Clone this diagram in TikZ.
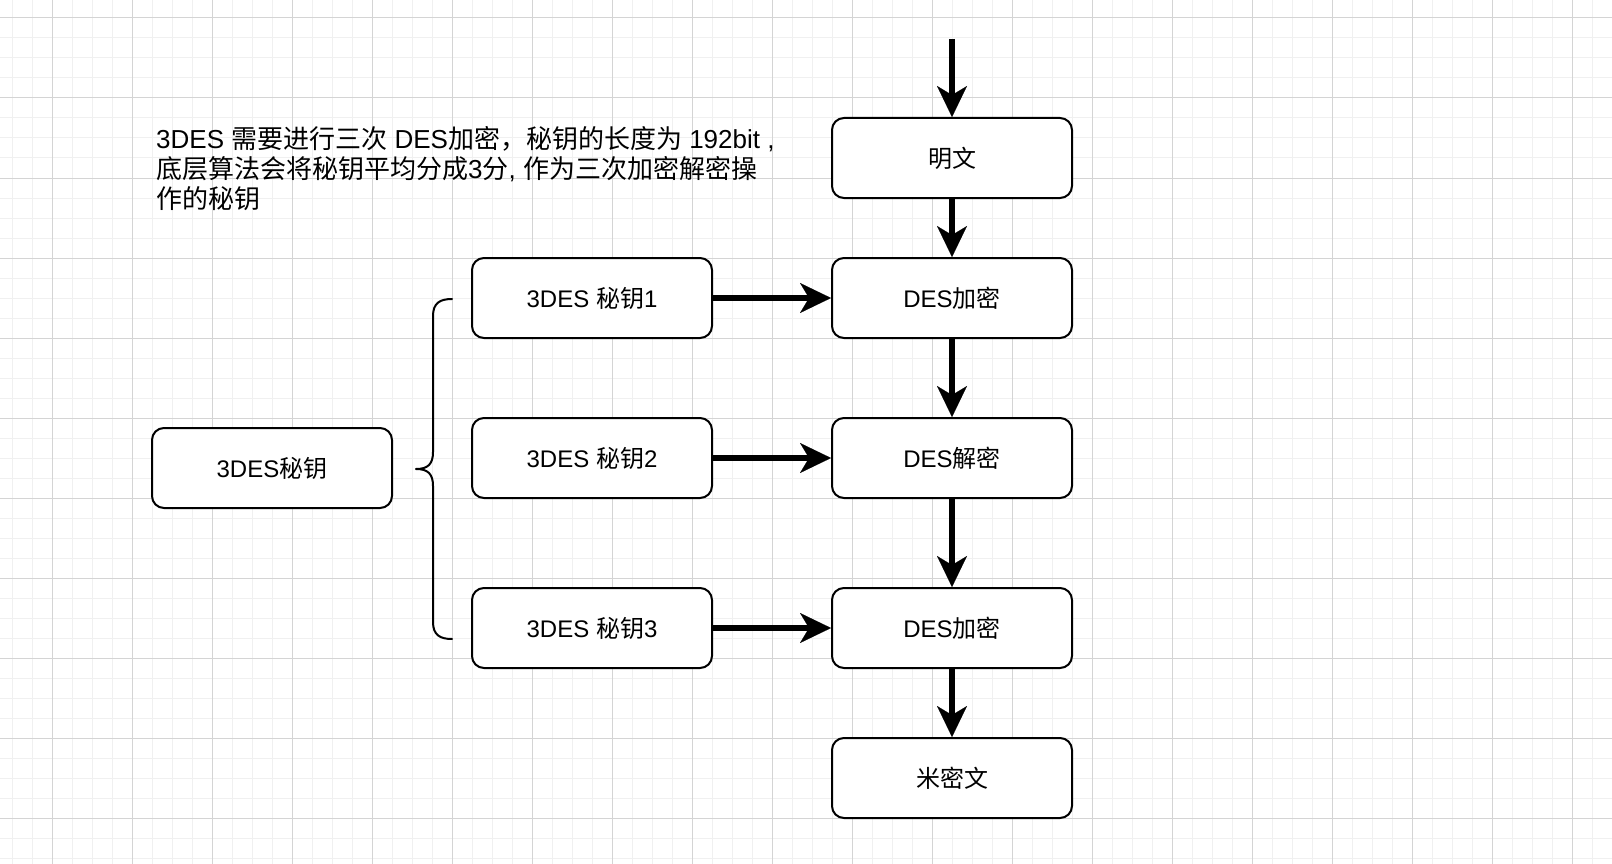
\documentclass[tikz,border=0pt]{standalone}
\usepackage{fontspec}
\setmainfont{Liberation Sans}
\newfontfamily\cjk{Noto Sans CJK SC}
\usetikzlibrary{arrows.meta}
\definecolor{gridminor}{HTML}{F0F0F0}
\definecolor{gridmajor}{HTML}{D4D4D4}
\begin{document}
\begin{tikzpicture}[x=1pt,y=-1pt,
  box/.style={draw=black, line width=2pt, rounded corners=12pt, fill=white,
    minimum width=240pt, minimum height=80pt, inner sep=0pt,
    font=\fontsize{24pt}{28pt}\selectfont},
  flow/.style={line width=6pt, -{Stealth[length=31pt,width=30pt,inset=9pt,line width=0.1pt]}},
  minorline/.style={draw=gridminor, line width=1pt},
  majorline/.style={draw=gridmajor, line width=1pt},
  brace/.style={draw=black, line width=2pt, line cap=round, line join=round}
]
\useasboundingbox (0,0) rectangle (1612,864);
\fill[white] (0,0) rectangle (1612,864);
% grid
\foreach \x in {12,32,...,1612} \draw[minorline] (\x,0) -- (\x,864);
\foreach \y in {18,38,...,864} \draw[minorline] (0,\y) -- (1612,\y);
\foreach \x in {52,132,...,1612} \draw[majorline] (\x,0) -- (\x,864);
\foreach \y in {18,98,...,864} \draw[majorline] (0,\y) -- (1612,\y);

% description text (base anchor = baseline of last line)
\node[anchor=base west, align=left, inner sep=0pt, font=\fontsize{26pt}{30pt}\selectfont] (desc) at (156,208)
  {3DES {\cjk 需要进行三次} DES{\cjk 加密，秘钥的长度为} 192bit ,\\
   {\cjk 底层算法会将秘钥平均分成}3{\cjk 分}, {\cjk 作为三次加密解密操}\\
   {\cjk 作的秘钥}};

% flow boxes
\node[box] (plain) at (952,158) {{\cjk 明文}};
\node[box] (enc1) at (952,298) {DES{\cjk 加密}};
\node[box] (dec) at (952,458) {DES{\cjk 解密}};
\node[box] (enc2) at (952,628) {DES{\cjk 加密}};
\node[box] (cipher) at (952,778) {{\cjk 米密文}};

% key boxes
\node[box] (k1) at (592,298) {3DES {\cjk 秘钥}1};
\node[box] (k2) at (592,458) {3DES {\cjk 秘钥}2};
\node[box] (k3) at (592,628) {3DES {\cjk 秘钥}3};
\node[box] (key) at (272,468) {3DES{\cjk 秘钥}};

% connectors
\coordinate (start) at (952,39);
\draw[flow] (start) -- (plain.north);
\draw[flow] (plain.south) -- (enc1.north);
\draw[flow] (enc1.south) -- (dec.north);
\draw[flow] (dec.south) -- (enc2.north);
\draw[flow] (enc2.south) -- (cipher.north);
\draw[flow] (k1.east) -- (enc1.west);
\draw[flow] (k2.east) -- (dec.west);
\draw[flow] (k3.east) -- (enc2.west);

% curly brace
\draw[brace] (452,299) .. controls (440,299) and (433,303) .. (433,316)
  -- (433,452) .. controls (433,464) and (428,469) .. (416,469)
  .. controls (428,469) and (433,474) .. (433,486)
  -- (433,622) .. controls (433,635) and (440,639) .. (452,639);
\end{tikzpicture}
\end{document}
